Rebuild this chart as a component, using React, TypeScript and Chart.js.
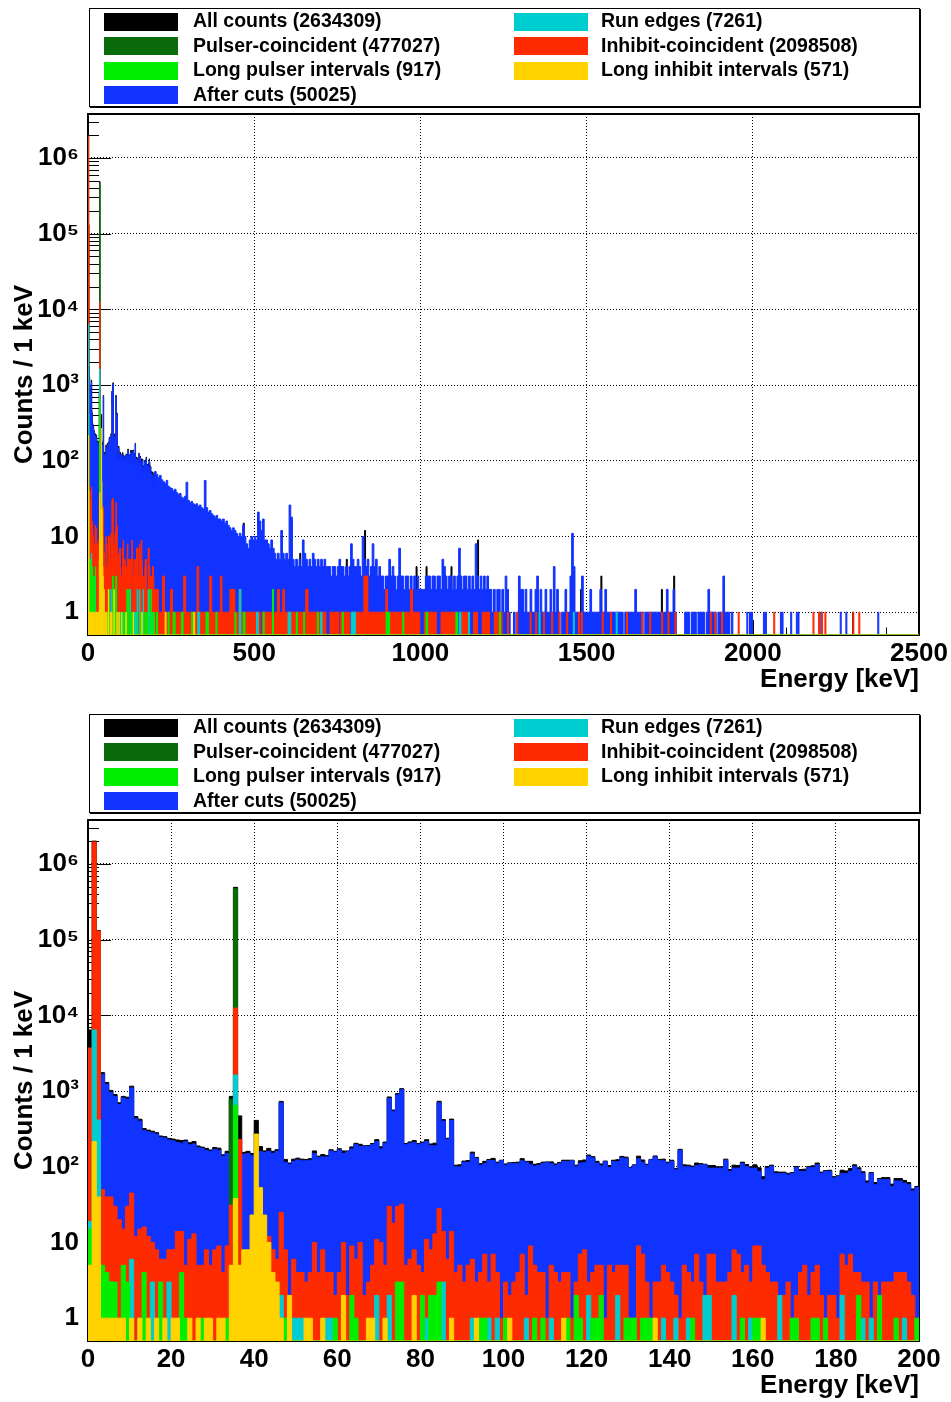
import React, { useEffect, useRef } from 'react';
import { Chart, registerables } from 'chart.js';

Chart.register(...registerables);

// ---------------- Data ----------------
const LEGEND_LABELS = ['All counts', 'Pulser-coincident', 'Long pulser intervals', 'After cuts', 'Run edges', 'Inhibit-coincident', 'Long inhibit intervals'];
const LEGEND_COUNTS = [2634309, 477027, 917, 50025, 7261, 2098508, 571];

const X_TICKS_TOP = [0, 500, 1000, 1500, 2000, 2500];
const X_TICKS_BOTTOM = [0, 20, 40, 60, 80, 100, 120, 140, 160, 180, 200];
const Y_MIN = 0.5;
const Y_MAX = 3.8e6;

// 1 keV bins, 0..199 keV
const allLow = [
  6400, 2000000, 132000, 1750, 1300, 1020, 900, 700, 850, 830,
  1160, 460, 425, 320, 305, 295, 282, 255, 250, 237,
  232, 226, 222, 225, 208, 215, 188, 182, 175, 167,
  180, 176, 144, 160, 850, 490000, 470, 155, 160, 150,
  410, 185, 162, 175, 160, 168, 730, 125, 112, 126,
  130, 126, 125, 128, 162, 138, 145, 141, 168, 160,
  173, 162, 162, 183, 204, 198, 190, 191, 203, 228,
  184, 212, 835, 562, 925, 1075, 203, 213, 222, 203,
  212, 228, 200, 205, 733, 420, 238, 426, 105, 106,
  119, 121, 156, 133, 110, 118, 125, 129, 115, 122,
  109, 113, 114, 115, 128, 118, 118, 108, 110, 115,
  116, 116, 109, 114, 122, 122, 122, 105, 120, 123,
  143, 136, 118, 109, 119, 104, 122, 124, 137, 134,
  98, 106, 138, 123, 108, 125, 139, 125, 126, 115,
  122, 95, 170, 106, 105, 102, 112, 110, 108, 104,
  104, 100, 100, 126, 92, 105, 104, 115, 107, 100,
  106, 97, 74, 101, 105, 86, 85, 85, 82, 84,
  101, 92, 93, 101, 103, 112, 85, 89, 90, 74,
  76, 90, 88, 95, 106, 97, 86, 65, 84, 62,
  70, 72, 72, 59, 70, 70, 66, 62, 51, 55,
];

const afterCutsLow = [
  0, 0, 0, 1670, 1230, 960, 850, 665, 810, 780,
  1100, 430, 400, 300, 290, 280, 270, 245, 240, 225,
  220, 210, 205, 215, 195, 200, 180, 175, 165, 160,
  170, 165, 138, 150, 140, 140, 140, 147, 150, 140,
  150, 160, 155, 160, 150, 160, 700, 115, 107, 118,
  123, 120, 120, 122, 150, 132, 135, 135, 162, 155,
  167, 150, 158, 172, 196, 186, 186, 186, 196, 215,
  172, 205, 800, 540, 890, 1040, 196, 205, 210, 196,
  205, 215, 190, 190, 700, 400, 230, 410, 100, 100,
  115, 115, 148, 129, 105, 110, 121, 121, 110, 120,
  105, 110, 110, 110, 120, 115, 108, 102, 105, 110,
  114, 110, 104, 110, 117, 117, 120, 100, 112, 114,
  138, 131, 112, 103, 117, 98, 117, 117, 131, 128,
  96, 104, 128, 115, 104, 123, 135, 121, 120, 110,
  117, 91, 165, 100, 100, 98, 104, 106, 106, 96,
  96, 96, 96, 122, 87, 96, 96, 110, 101, 96,
  96, 87, 68, 96, 101, 82, 82, 82, 78, 82,
  98, 87, 87, 98, 98, 106, 82, 87, 87, 71,
  74, 82, 82, 87, 101, 92, 82, 61, 82, 58,
  68, 68, 68, 55, 65, 65, 61, 58, 48, 53,
];

const inhibitLow = [
  3700, 1950000, 130000, 50, 40, 40, 30, 20, 15, 30,
  45, 12, 15, 16, 12, 10, 8, 6, 6, 8,
  8, 14, 14, 5, 11, 13, 5, 5, 8, 5,
  8, 9, 4, 9, 31, 12500, 230, 5, 4, 3,
  6, 5, 4, 12, 8, 6, 25, 8, 2, 6,
  4, 4, 3, 4, 10, 4, 8, 4, 4, 2,
  4, 10, 2, 9, 6, 10, 2, 3, 5, 11,
  10, 5, 30, 18, 30, 32, 5, 6, 8, 5,
  4, 11, 8, 13, 28, 14, 6, 14, 4, 5,
  3, 5, 6, 3, 4, 7, 3, 7, 4, 1,
  3, 2, 3, 4, 7, 2, 9, 5, 4, 4,
  1, 5, 4, 3, 4, 4, 1, 3, 7, 8,
  3, 4, 5, 5, 1, 5, 4, 5, 5, 5,
  1, 1, 9, 7, 3, 1, 3, 3, 5, 4,
  3, 2, 1, 5, 4, 3, 7, 3, 1, 7,
  7, 3, 3, 3, 4, 8, 7, 4, 5, 3,
  9, 9, 5, 4, 3, 3, 1, 2, 3, 1,
  2, 4, 5, 2, 4, 5, 2, 1, 2, 2,
  1, 7, 5, 7, 4, 4, 3, 3, 1, 3,
  1, 3, 3, 3, 4, 4, 4, 3, 2, 1,
];

// sparse [bin, counts] for 0..199 keV
const pulserLow = [[34, 780], [35, 470000]];
const runEdgesLow = [[0, 19], [1, 6400], [2, 415], [4, 3], [5, 3], [10, 6], [12, 1], [15, 3], [19, 3], [35, 1630], [36, 1], [46, 2], [49, 1], [50, 1], [51, 1], [57, 1], [58, 1], [69, 2], [72, 2], [81, 1], [85, 3], [92, 1], [96, 1], [98, 1], [105, 1], [111, 1], [120, 2], [127, 2], [138, 1], [141, 1], [144, 1], [148, 2], [149, 2], [155, 2], [159, 1], [166, 2], [181, 2], [186, 1], [188, 1], [196, 1]];
const longPulserLow = [[0, 15], [3, 5], [4, 4], [5, 3], [6, 3], [8, 5], [9, 3], [13, 4], [17, 3], [22, 4], [23, 1], [27, 1], [33, 1], [35, 650], [46, 1], [47, 1], [59, 1], [63, 2], [64, 1], [74, 3], [75, 3], [80, 2], [82, 2], [83, 2], [84, 3], [94, 1], [95, 1], [100, 1], [107, 1], [109, 1], [115, 1], [117, 2], [118, 1], [121, 1], [122, 1], [123, 2], [129, 1], [130, 1], [131, 1], [133, 1], [134, 1], [135, 1], [145, 1], [157, 1], [160, 1], [161, 1], [169, 1], [170, 1], [174, 1], [175, 1], [177, 1], [185, 2], [190, 2], [194, 1], [199, 1]];
const longInhibitLow = [[0, 5], [1, 215], [2, 40], [3, 1], [4, 1], [5, 1], [6, 1], [7, 1], [8, 1], [10, 1], [12, 1], [14, 1], [16, 1], [18, 1], [20, 1], [21, 1], [24, 1], [26, 1], [28, 1], [29, 1], [31, 1], [32, 1], [34, 5], [35, 38], [36, 5], [37, 8], [38, 8], [39, 23], [40, 270], [41, 53], [42, 23], [43, 10], [44, 4], [45, 3], [46, 1], [48, 2], [52, 1], [53, 1], [56, 1], [61, 2], [67, 1], [68, 1], [71, 1], [78, 2], [87, 1], [93, 1], [101, 1], [114, 1], [136, 1], [162, 1]];

// Upper-panel continuation above 200 keV: "After cuts" peak counts per 1 keV, read in 5 keV steps (200..1935 keV)
const afterCutsHi = [
  72, 66, 60, 64, 56, 53, 50, 55, 46, 44, 43, 40, 42, 38, 36, 37, 33, 32, 34, 52,
  30, 28, 29, 27, 26, 27, 25, 26, 24, 23, 55, 24, 21, 22, 20, 19, 18, 19, 17, 17,
  16, 17, 15, 16, 14, 13, 12, 13, 12, 11, 10, 11, 10, 14, 10, 8, 7, 9, 10, 9,
  10, 9, 21, 16, 12, 17, 9, 9, 8, 7, 9, 7, 6, 5, 6, 5, 12, 6, 5, 6,
  5, 26, 18, 5, 4, 5, 4, 5, 4, 9, 6, 5, 4, 5, 4, 6, 5, 4, 5, 4,
  5, 4, 5, 4, 4, 4, 3, 4, 4, 3, 4, 5, 4, 4, 3, 4, 3, 4, 8, 5,
  4, 4, 5, 4, 3, 10, 5, 4, 5, 3, 4, 8, 4, 5, 3, 4, 3, 3, 2, 3,
  3, 5, 3, 4, 3, 2, 3, 7, 3, 3, 2, 3, 3, 2, 3, 2, 3, 2, 3, 2,
  2, 2, 2, 3, 3, 3, 2, 3, 3, 2, 3, 3, 2, 5, 4, 3, 2, 3, 3, 2,
  3, 2, 3, 7, 3, 2, 3, 3, 2, 3, 2, 3, 2, 8, 3, 2, 3, 2, 3, 2,
  3, 2, 2, 1, 2, 1, 2, 2, 1, 2, 1, 3, 2, 1, 0, 0, 1, 0, 1, 3,
  2, 2, 1, 2, 1, 1, 2, 1, 1, 2, 3, 1, 2, 1, 1, 2, 1, 1, 2, 1,
  4, 1, 2, 1, 0, 1, 1, 2, 1, 1, 3, 11, 4, 1, 1, 1, 1, 3, 1, 1,
  1, 1, 2, 1, 1, 1, 1, 1, 2, 1, 1, 2, 1, 1, 1, 1, 1, 1, 1, 1,
  1, 1, 0, 1, 1, 1, 1, 1, 1, 2, 1, 1, 1, 1, 0, 1, 1, 1, 1, 1,
  1, 1, 1, 1, 1, 1, 1, 1, 2, 1, 1, 1, 2, 1, 0, 0, 0, 0, 0, 1,
  1, 1, 0, 1, 1, 1, 0, 1, 1, 1, 1, 0, 1, 2, 1, 1, 1, 1, 0, 1,
  1, 1, 3, 1, 1, 1, 0, 1,
];

// Upper-panel sparse entries above 200 keV: [fromKeV, toKeV, counts]
const afterCutsHiRuns = [[1982, 1985, 1], [1990, 1993, 1], [1996, 1999, 1], [2032, 2035, 1], [2038, 2041, 1], [2083, 2086, 1], [2088, 2091, 1], [2114, 2117, 1], [2131, 2134, 1], [2136, 2139, 1], [2199, 2202, 1], [2205, 2208, 1], [2263, 2266, 1], [2280, 2283, 1], [2376, 2379, 1]];
const allHiRuns = [[467, 470, 15], [637, 640, 6], [777, 780, 5], [832, 835, 12], [987, 990, 4], [1017, 1020, 4], [1092, 1095, 4], [1172, 1175, 9], [1482, 1485, 2], [1543, 1546, 3], [1725, 1728, 2], [1762, 1765, 3], [2300, 2303, 1]];
const inhibitHiRuns = [[200, 212, 2], [212, 224, 1], [224, 230, 3], [230, 248, 1], [248, 254, 2], [254, 288, 1], [288, 294, 3], [294, 328, 1], [328, 333, 4], [333, 366, 1], [366, 372, 3], [372, 398, 1], [398, 403, 3], [403, 427, 1], [427, 442, 2], [442, 455, 1], [455, 460, 2], [460, 518, 1], [524, 570, 1], [570, 576, 2], [576, 586, 1], [586, 591, 2], [591, 652, 1], [655, 662, 2], [662, 716, 1], [728, 755, 1], [760, 788, 1], [800, 830, 1], [830, 842, 3], [842, 896, 1], [896, 901, 2], [901, 968, 1], [970, 976, 2], [976, 998, 1], [1012, 1048, 1], [1062, 1110, 1], [1124, 1145, 1], [1160, 1172, 1], [1186, 1208, 1], [1222, 1246, 1], [1262, 1265, 1], [1290, 1293, 1], [1330, 1333, 1], [1347, 1350, 1], [1370, 1373, 1], [1395, 1398, 1], [1417, 1420, 1], [1440, 1443, 1], [1476, 1479, 1], [1484, 1487, 1], [1547, 1550, 1], [1572, 1575, 1], [1620, 1623, 1], [1666, 1669, 1], [1690, 1693, 1], [1726, 1729, 1], [1745, 1748, 1], [1766, 1769, 1], [1872, 1875, 1], [1886, 1889, 1], [1906, 1909, 1], [1956, 1959, 1], [2063, 2066, 1], [2181, 2184, 1], [2198, 2201, 1], [2207, 2210, 1], [2217, 2220, 1], [2301, 2304, 1], [2319, 2322, 1]];
const runEdgesHiRuns = [[330, 336, 1], [455, 460, 2], [507, 512, 1], [602, 610, 1], [700, 704, 1], [792, 805, 1], [1117, 1122, 1], [1145, 1148, 1], [1357, 1360, 1], [1460, 1463, 1], [1589, 1592, 1]];
const longPulserHiRuns = [[206, 209, 1], [241, 244, 1], [256, 262, 1], [281, 286, 1], [312, 315, 1], [355, 362, 1], [385, 388, 1], [442, 445, 1], [467, 472, 1], [527, 530, 1], [555, 558, 2], [627, 630, 1], [649, 652, 1], [690, 693, 1], [765, 768, 1], [897, 907, 1], [947, 950, 1], [1017, 1022, 1], [1107, 1112, 1], [1238, 1241, 1]];
const longInhibitHiRuns = [[232, 235, 1], [318, 321, 1]];
const pulserHiRuns: number[][] = [];

// ---------------- Style ----------------
const FONT = "'Liberation Sans', Arial, Helvetica, sans-serif";
const COL = {
  all: '#000000',
  pulser: '#0a6b0a',
  longPulser: '#00ee00',
  afterCuts: '#1133ff',
  runEdges: '#00cdd0',
  inhibit: '#ff2b00',
  longInhibit: '#ffd200',
};
const LEGEND_COLORS = [COL.all, COL.pulser, COL.longPulser, COL.afterCuts, COL.runEdges, COL.inhibit, COL.longInhibit];

const SUP = ['\u2070', '\u00b9', '\u00b2', '\u00b3', '\u2074', '\u2075', '\u2076', '\u2077', '\u2078', '\u2079'];
function decadeLabel(v: number) {
  const l = Math.log10(v);
  const e = Math.round(l);
  if (Math.abs(l - e) > 1e-6) return null;
  if (e === 0) return '1';
  if (e === 1) return '10';
  return '10' + String(e).split('').map((d) => SUP[+d]).join('');
}

function expand(pairs: number[][]) {
  const arr = new Array(200).fill(0);
  pairs.forEach(([b, c]) => { arr[b] = c; });
  return arr;
}

function lowPts(vals: number[]) {
  const pts = vals.map((v, i) => ({ x: i, y: v }));
  pts.push({ x: 200, y: 0 });
  return pts;
}

function topPts(vals: number[], hiBins: number[] | null, runs: number[][]) {
  const pts = vals.map((v, i) => ({ x: i, y: v }));
  let cur = 200;
  if (hiBins) {
    hiBins.forEach((v, i) => pts.push({ x: 200 + 5 * i, y: v }));
    cur = 200 + 5 * hiBins.length;
  }
  runs.forEach(([s, e, v]) => {
    if (s > cur) pts.push({ x: cur, y: 0 });
    pts.push({ x: s, y: v });
    cur = e;
  });
  pts.push({ x: cur, y: 0 });
  if (cur < 2500) pts.push({ x: 2500, y: 0 });
  return pts;
}

function ds(label: string, color: string, order: number, data: any[]) {
  return {
    label, data, order,
    backgroundColor: color, borderColor: color, borderWidth: 1,
    fill: 'start', stepped: true, pointRadius: 0, pointHoverRadius: 0, tension: 0, spanGaps: true,
  };
}

const frameTicks = {
  id: 'frameTicks',
  beforeDatasetsDraw(chart: any, _a: any, opts: any) {
    const { ctx, chartArea: a, scales } = chart;
    const x = scales.x, y = scales.y;
    ctx.save();
    ctx.strokeStyle = '#000';
    ctx.lineWidth = 1;
    ctx.beginPath();
    for (let e = -1; e <= 7; e++) {
      for (let m = 1; m <= 9; m++) {
        const v = m * Math.pow(10, e);
        if (v <= y.min || v >= y.max) continue;
        const py = Math.round(y.getPixelForValue(v)) + 0.5;
        ctx.moveTo(a.left, py);
        ctx.lineTo(a.left + (m === 1 ? 23 : 11), py);
      }
    }
    for (let v = 0; v <= opts.max + 1e-9; v += opts.minor) {
      const px = Math.round(x.getPixelForValue(v)) + 0.5;
      const r = v / opts.major;
      const major = Math.abs(r - Math.round(r)) < 1e-9;
      ctx.moveTo(px, a.bottom);
      ctx.lineTo(px, a.bottom - (major ? 15 : 7.5));
    }
    ctx.stroke();
    ctx.lineWidth = 2;
    ctx.strokeRect(a.left, a.top, a.right - a.left, a.bottom - a.top);
    ctx.restore();
  },
};

function makeConfig(xTicks: number[], minor: number, datasets: any[]) {
  const xMax = xTicks[xTicks.length - 1];
  const step = xTicks[1] - xTicks[0];
  const font = { family: FONT, size: 26, weight: 'bold' as const };
  return {
    type: 'line' as const,
    data: { datasets },
    plugins: [frameTicks],
    options: {
      animation: false,
      responsive: false,
      devicePixelRatio: 1,
      events: [],
      parsing: false,
      normalized: true,
      layout: { padding: { top: 114, right: 32, bottom: 0, left: 0 } },
      plugins: {
        legend: { display: false },
        tooltip: { enabled: false },
        frameTicks: { max: xMax, major: step, minor },
      },
      scales: {
        x: {
          type: 'linear', min: 0, max: xMax,
          afterFit: (s: any) => { s.height = 60; },
          ticks: { stepSize: step, autoSkip: false, maxRotation: 0, color: '#000', font, padding: 3, callback: (v: any) => String(v) },
          grid: { drawTicks: false, lineWidth: 1, color: (c: any) => (c.tick && (c.tick.value === 0 || c.tick.value === xMax) ? 'rgba(0,0,0,0)' : '#000') },
          border: { display: false, dash: [1, 2] },
          title: { display: true, text: 'Energy [keV]', align: 'end', color: '#000', font, padding: { top: 0, bottom: 0 } },
        },
        y: {
          type: 'logarithmic', min: Y_MIN, max: Y_MAX,
          afterFit: (s: any) => { s.width = 88; },
          ticks: { autoSkip: false, color: '#000', font, padding: 9, callback: (v: any) => decadeLabel(Number(v)) },
          grid: { drawTicks: false, lineWidth: 1, color: '#000' },
          border: { display: false, dash: [1, 2] },
          title: { display: true, text: 'Counts / 1 keV', color: '#000', font, padding: { top: 9, bottom: 0 } },
        },
      },
    },
  };
}

function topDatasets() {
  return [
    ds(LEGEND_LABELS[6], COL.longInhibit, 0, topPts(expand(longInhibitLow), null, longInhibitHiRuns)),
    ds(LEGEND_LABELS[2], COL.longPulser, 1, topPts(expand(longPulserLow), null, longPulserHiRuns)),
    ds(LEGEND_LABELS[4], COL.runEdges, 2, topPts(expand(runEdgesLow), null, runEdgesHiRuns)),
    ds(LEGEND_LABELS[5], COL.inhibit, 3, topPts(inhibitLow, null, inhibitHiRuns)),
    ds(LEGEND_LABELS[1], COL.pulser, 4, topPts(expand(pulserLow), null, pulserHiRuns)),
    ds(LEGEND_LABELS[3], COL.afterCuts, 5, topPts(afterCutsLow, afterCutsHi, afterCutsHiRuns)),
    ds(LEGEND_LABELS[0], COL.all, 6, topPts(allLow, null, allHiRuns)),
  ];
}

function bottomDatasets() {
  return [
    ds(LEGEND_LABELS[6], COL.longInhibit, 0, lowPts(expand(longInhibitLow))),
    ds(LEGEND_LABELS[2], COL.longPulser, 1, lowPts(expand(longPulserLow))),
    ds(LEGEND_LABELS[4], COL.runEdges, 2, lowPts(expand(runEdgesLow))),
    ds(LEGEND_LABELS[5], COL.inhibit, 3, lowPts(inhibitLow)),
    ds(LEGEND_LABELS[1], COL.pulser, 4, lowPts(expand(pulserLow))),
    ds(LEGEND_LABELS[3], COL.afterCuts, 5, lowPts(afterCutsLow)),
    ds(LEGEND_LABELS[0], COL.all, 6, lowPts(allLow)),
  ];
}

function Legend() {
  const rowTop = [3.5, 28, 52.5, 77];
  return (
    <div style={{ position: 'absolute', left: 89, top: 8, width: 831, height: 99, boxSizing: 'border-box', border: '1px solid #000', boxShadow: '1px 1px 0 #000', background: '#fff' }}>
      {LEGEND_LABELS.map((lab, i) => {
        const col = i < 4 ? 0 : 1;
        const row = i < 4 ? i : i - 4;
        const top = rowTop[row];
        return (
          <React.Fragment key={lab}>
            <div style={{ position: 'absolute', left: col === 0 ? 14 : 424, top, width: 74, height: 18, background: LEGEND_COLORS[i] }} />
            <div style={{ position: 'absolute', left: col === 0 ? 103 : 511, top: top - 3.5, height: 22, lineHeight: '22px', fontFamily: FONT, fontWeight: 700, fontSize: 19.5, color: '#000', whiteSpace: 'nowrap' }}>
              {lab} ({LEGEND_COUNTS[i]})
            </div>
          </React.Fragment>
        );
      })}
    </div>
  );
}

function Panel({ top, which }: { top: number; which: 'top' | 'bottom' }) {
  const ref = useRef<HTMLCanvasElement | null>(null);
  useEffect(() => {
    if (!ref.current) return;
    const cfg = which === 'top'
      ? makeConfig(X_TICKS_TOP, 100, topDatasets())
      : makeConfig(X_TICKS_BOTTOM, 4, bottomDatasets());
    const chart = new Chart(ref.current, cfg as any);
    return () => chart.destroy();
  }, [which]);
  return (
    <div style={{ position: 'absolute', left: 0, top, width: 951, height: 695 }}>
      <canvas ref={ref} width={951} height={695} style={{ position: 'absolute', left: 0, top: 0, width: 951, height: 695 }} />
      <Legend />
    </div>
  );
}

export default function App() {
  useEffect(() => {
    document.body.style.margin = '0';
    document.documentElement.style.margin = '0';
  }, []);
  return (
    <div style={{ position: 'relative', width: 951, height: 1402, overflow: 'hidden', fontFamily: FONT, background: '#fff' }}>
      <style>{'html,body{margin:0;padding:0;}'}</style>
      <Panel top={0} which="top" />
      <Panel top={706} which="bottom" />
    </div>
  );
}
